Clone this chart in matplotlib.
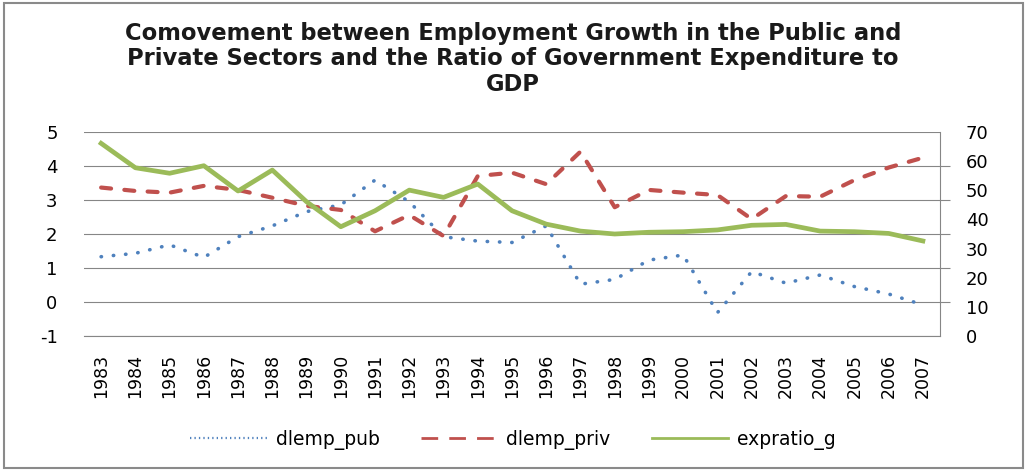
import numpy as np
import matplotlib
matplotlib.use('Agg')
import matplotlib.pyplot as plt
from matplotlib.patches import Rectangle
from matplotlib.lines import Line2D

plt.rcParams['axes.unicode_minus'] = False

# Jahre und Reihen
years = list(range(1983, 2008))
dlemp_pub = [1.33, 1.43, 1.68, 1.31, 1.92, 2.24, 2.66, 2.86, 3.59, 2.95, 1.92, 1.79, 1.75,
             2.24, 0.52, 0.66, 1.23, 1.38, -0.32, 0.89, 0.55, 0.79, 0.45, 0.23, -0.09]
dlemp_priv = [3.37, 3.27, 3.22, 3.42, 3.30, 3.07, 2.83, 2.71, 2.08, 2.56, 1.94, 3.71, 3.81,
              3.47, 4.43, 2.79, 3.30, 3.22, 3.15, 2.44, 3.12, 3.10, 3.59, 3.96, 4.25]
expratio_g = [66.2, 57.8, 55.9, 58.5, 49.8, 57.0, 46.1, 37.5, 43.0, 50.1, 47.6, 52.2, 43.0,
              38.4, 36.0, 35.0, 35.6, 35.8, 36.4, 38.0, 38.3, 36.0, 35.8, 35.2, 32.6]

title = ('Comovement between Employment Growth in the Public and\n'
         'Private Sectors and the Ratio of Government Expenditure to\n'
         'GDP')

c_pub, c_priv, c_exp = '#4F81BD', '#C0504D', '#9BBB59'
grid_col = '#868686'
x = np.arange(len(years))

fig = plt.figure(figsize=(10.26, 4.70), dpi=100)
ax = fig.add_axes([84 / 1026, 134.3 / 470, 856 / 1026, 203.4 / 470])
ax2 = ax.twinx()

# Linke Achse: Beschaeftigungswachstum
ax.plot(x, dlemp_pub, color=c_pub, lw=2.6, linestyle=(0, (0.1, 3.3)),
        dash_capstyle='round')
ax.plot(x, dlemp_priv, color=c_priv, lw=3.0, linestyle=(0, (2.4, 3.2)),
        dash_capstyle='round')
# Rechte Achse: Staatsausgabenquote
ax2.plot(x, expratio_g, color=c_exp, lw=3.4, solid_joinstyle='round')

ax.set_xlim(-0.5, len(years) - 0.5)
ax.set_ylim(-1, 5)
ax.set_yticks(range(-1, 6))
ax.set_xticks(x)
ax.set_xticklabels([str(y) for y in years], rotation=90, fontsize=12.5)
ax.tick_params(axis='x', length=0, pad=13)
ax.tick_params(axis='y', length=0, pad=19, labelsize=13)
ax.grid(axis='y', color=grid_col, lw=0.8)
ax.set_axisbelow(True)
for s in ['top', 'left', 'right']:
    ax.spines[s].set_visible(False)
ax.spines['bottom'].set_color(grid_col)
ax.spines['bottom'].set_linewidth(0.8)

ax2.set_ylim(0, 70)
ax2.set_yticks(range(0, 80, 10))
ax2.set_yticks([(v + 1) * 70 / 6 for v in range(-1, 6)], minor=True)
ax2.tick_params(axis='y', which='major', length=0, pad=18.5, labelsize=13)
ax2.tick_params(axis='y', which='minor', length=7, width=0.8, color=grid_col)
for s in ['top', 'left', 'bottom']:
    ax2.spines[s].set_visible(False)
ax2.spines['right'].set_color(grid_col)
ax2.spines['right'].set_linewidth(0.8)

fig.text(0.5, 1 - 59 / 470, title, ha='center', va='center', fontsize=16.3,
         fontweight='bold', linespacing=1.15, color='#1a1a1a')

# Legende mit duenneren Linien
handles = [
    Line2D([], [], color=c_pub, lw=1.6, linestyle=(0, (0.6, 1.4))),
    Line2D([], [], color=c_priv, lw=2.0, linestyle=(0, (6, 4))),
    Line2D([], [], color=c_exp, lw=2.0),
]
fig.legend(handles, ['dlemp_pub', 'dlemp_priv', 'expratio_g'], loc='center',
           bbox_to_anchor=(0.5, 1 - 440 / 470), ncol=3, frameon=False,
           fontsize=13.5, handlelength=4.1, handletextpad=0.45, columnspacing=2.2)

# Rahmen um die ganze Grafik
fig.add_artist(Rectangle((4 / 1026, 2 / 470), 1019 / 1026, 465 / 470,
                         transform=fig.transFigure, fill=False,
                         edgecolor='#8a8a8a', lw=1.5))

plt.savefig('out.png', dpi=100)
